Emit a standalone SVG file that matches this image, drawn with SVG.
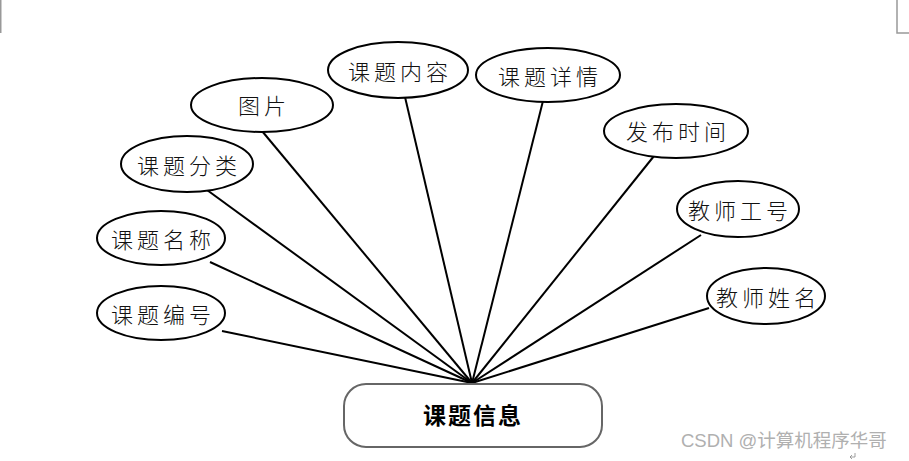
<svg xmlns="http://www.w3.org/2000/svg" width="909" height="461" viewBox="0 0 909 461">
<style>
.attr ellipse{fill:#fff;stroke:#000;stroke-width:2}
.attr text{font-family:"Noto Sans CJK SC","Noto Sans",sans-serif;font-size:22px;font-weight:300;fill:#111;text-anchor:middle;dominant-baseline:central;letter-spacing:4px}
.edges line{stroke:#000;stroke-width:2}
.crop{stroke:#999;stroke-width:1.5;fill:none}
</style>
<rect width="909" height="461" fill="#fff"/>
<path class="crop" d="M0.75 0V33"/>
<path class="crop" d="M897 0V33H909"/>
<g class="edges">
<line x1="222" y1="331" x2="472" y2="383"/>
<line x1="210" y1="262" x2="472" y2="383"/>
<line x1="207" y1="190" x2="472" y2="383"/>
<line x1="262" y1="131" x2="472" y2="383"/>
<line x1="405" y1="97" x2="472" y2="383"/>
<line x1="543" y1="101" x2="472" y2="383"/>
<line x1="654" y1="156" x2="472" y2="383"/>
<line x1="701" y1="235" x2="472" y2="383"/>
<line x1="709" y1="308" x2="472" y2="383"/>
</g>
<g id="n-bianhao" class="attr"><ellipse cx="161" cy="313" rx="64" ry="27"/><text x="163" y="313">课题编号</text></g>
<g id="n-mingcheng" class="attr"><ellipse cx="161" cy="238" rx="64" ry="27"/><text x="163" y="238">课题名称</text></g>
<g id="n-fenlei" class="attr"><ellipse cx="187" cy="164" rx="66" ry="28"/><text x="189" y="164">课题分类</text></g>
<g id="n-tupian" class="attr"><ellipse cx="262" cy="105" rx="71" ry="27"/><text x="264" y="104">图片</text></g>
<g id="n-neirong" class="attr"><ellipse cx="398" cy="70" rx="70" ry="28"/><text x="400" y="70">课题内容</text></g>
<g id="n-xiangqing" class="attr"><ellipse cx="548" cy="75" rx="72" ry="27"/><text x="550" y="75">课题详情</text></g>
<g id="n-fabu" class="attr"><ellipse cx="676" cy="131" rx="72" ry="27"/><text x="678" y="130">发布时间</text></g>
<g id="n-gonghao" class="attr"><ellipse cx="738" cy="209" rx="61" ry="28"/><text x="740" y="209">教师工号</text></g>
<g id="n-xingming" class="attr"><ellipse cx="766" cy="296" rx="59" ry="28"/><text x="768" y="296">教师姓名</text></g>
<g id="n-main">
<rect x="344" y="384" width="258" height="63" rx="22" fill="#fff" stroke="#666" stroke-width="2"/>
<text x="473" y="414" font-family="Noto Sans CJK SC,sans-serif" font-size="23" font-weight="bold" fill="#000" text-anchor="middle" dominant-baseline="central" letter-spacing="2">课题信息</text>
</g>
<text x="681" y="447" font-family="Liberation Sans,Noto Sans CJK SC,sans-serif" font-size="18.5" fill="#b0b0b0">CSDN @计算机程序华哥</text>
<path d="M855 453V457H850M852 455L850 457L852 459" fill="none" stroke="#888" stroke-width="0.8"/>
</svg>
